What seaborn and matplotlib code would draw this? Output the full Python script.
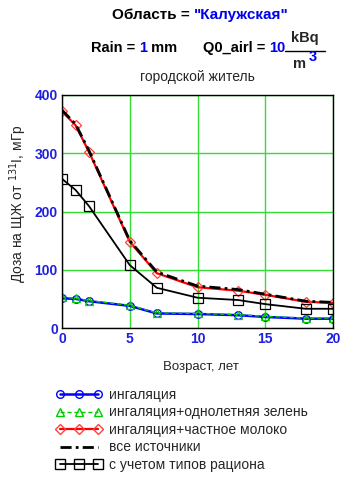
import numpy as np
import pandas as pd
import matplotlib
matplotlib.use('Agg')
import matplotlib.pyplot as plt
import seaborn as sns
from matplotlib.lines import Line2D

# data
ages = [0, 1, 2, 5, 7, 10, 13, 15, 18, 20]
inhal = [51, 50, 46, 38, 25, 24, 22, 19, 16, 16]
inhal_green = [53, 51, 47, 39, 26, 25, 23, 20, 17, 17]
inhal_milk = [372, 348, 302, 148, 94, 70, 64, 57, 45, 43]
all_src = [374, 350, 304, 150, 96, 72, 66, 58, 46, 44]
diet = [256, 237, 209, 108, 69, 52, 48, 41, 33, 33]

labels = ['ингаляция', 'ингаляция+однолетняя зелень', 'ингаляция+частное молоко',
          'все источники', 'с учетом типов рациона']

sns.set_theme(style='white')
plt.rcParams['font.family'] = ['Liberation Sans', 'DejaVu Sans']

W, H = 356, 482
fig = plt.figure(figsize=(W / 100, H / 100), dpi=100)
ax = fig.add_axes([62 / W, 1 - 328 / H, 271 / W, 233 / H])

blue = '#1f1fe0'
sns.lineplot(x=ages, y=inhal, ax=ax, color='#0000ff', lw=1.8, marker='o', ms=5.5,
             markerfacecolor='none', markeredgecolor='#0000ff', markeredgewidth=0.9)
sns.lineplot(x=ages, y=inhal_green, ax=ax, color='#00cc00', lw=1.0, ls=(0, (3, 2)), marker='^', ms=5.5,
             markerfacecolor='none', markeredgecolor='#00cc00', markeredgewidth=0.9)
sns.lineplot(x=ages, y=inhal_milk, ax=ax, color='#ff0000', lw=1.6, marker='D', ms=5,
             markerfacecolor='none', markeredgecolor='#ff4040', markeredgewidth=0.9)
sns.lineplot(x=ages, y=all_src, ax=ax, color='black', lw=2.0, ls=(0, (4, 1.5, 1, 1.5)))
sns.lineplot(x=ages, y=diet, ax=ax, color='black', lw=1.3, marker='s', ms=6.5,
             markerfacecolor='none', markeredgecolor='black', markeredgewidth=0.9)

ax.set_xlim(0, 20)
ax.set_ylim(0, 400)
ax.set_xticks([0, 5, 10, 15, 20])
ax.set_yticks([0, 100, 200, 300, 400])
ax.grid(True, color='#33dd33', lw=1.0)
for s in ax.spines.values():
    s.set_color('black')
    s.set_linewidth(1.0)
ax.tick_params(length=0, pad=3, labelsize=10, labelcolor=blue)
for t in ax.get_xticklabels() + ax.get_yticklabels():
    t.set_fontweight('bold')
ax.set_xlabel('Возраст, лет', fontsize=9.5)
ax.set_ylabel('Доза на ЩЖ от $^{131}$I, мГр', fontsize=10)
ax.xaxis.set_label_coords(0.513, -0.142)
ax.yaxis.set_label_coords(-0.12, 0.532)

# header
def chain(parts, x, y, size):
    t = fig.text(x / W, 1 - y / H, parts[0][0], color=parts[0][1], fontsize=size,
                 fontweight='bold', va='baseline')
    for txt, col in parts[1:]:
        t = ax.annotate(txt, xy=(1, 0), xycoords=t, va='bottom', ha='left',
                        color=col, fontsize=size, fontweight='bold')
    return t

chain([('Область = ', 'black'), ('"Калужская"', '#0000ee')], 112, 19, 11)
chain([('Rain = ', 'black'), ('1', '#0000ee'), (' mm', 'black')], 91, 52, 10.5)
chain([('Q0_airl = ', 'black'), ('10', '#0000ee')], 203, 52, 10.5)
fig.text(305 / W, 1 - 38 / H, 'kBq', fontsize=10.5, fontweight='bold', ha='center', va='center')
fig.add_artist(Line2D([285 / W, 325 / W], [1 - 51 / H, 1 - 51 / H], color='black', lw=1.0))
fig.text(300 / W, 1 - 64 / H, 'm', fontsize=10.5, fontweight='bold', ha='center', va='center')
fig.text(313 / W, 1 - 57 / H, '3', fontsize=10.5, fontweight='bold', color='#0000ee', ha='center', va='center')
fig.text(197 / W, 1 - 77 / H, 'городской житель', fontsize=10, ha='center', va='center')

handles = [
    Line2D([], [], color='#0000ff', lw=1.8, marker='o', ms=5.5, markerfacecolor='none'),
    Line2D([], [], color='#00cc00', lw=1.0, ls=(0, (3, 2)), marker='^', ms=5.5, markerfacecolor='none'),
    Line2D([], [], color='#ff0000', lw=1.6, marker='D', ms=5, markerfacecolor='none', markeredgecolor='#ff4040'),
    Line2D([], [], color='black', lw=2.0, ls=(0, (4, 1.5, 1, 1.5))),
    Line2D([], [], color='black', lw=1.3, marker='s', ms=6.5, markerfacecolor='none'),
]
fig.legend(handles, labels, loc='upper left', bbox_to_anchor=(56 / W, 1 - 388 / H),
           frameon=False, fontsize=10, handlelength=3.3, handletextpad=0.5,
           labelspacing=0.25, numpoints=3, borderpad=0, borderaxespad=0)

fig.savefig('out.png', dpi=100)
